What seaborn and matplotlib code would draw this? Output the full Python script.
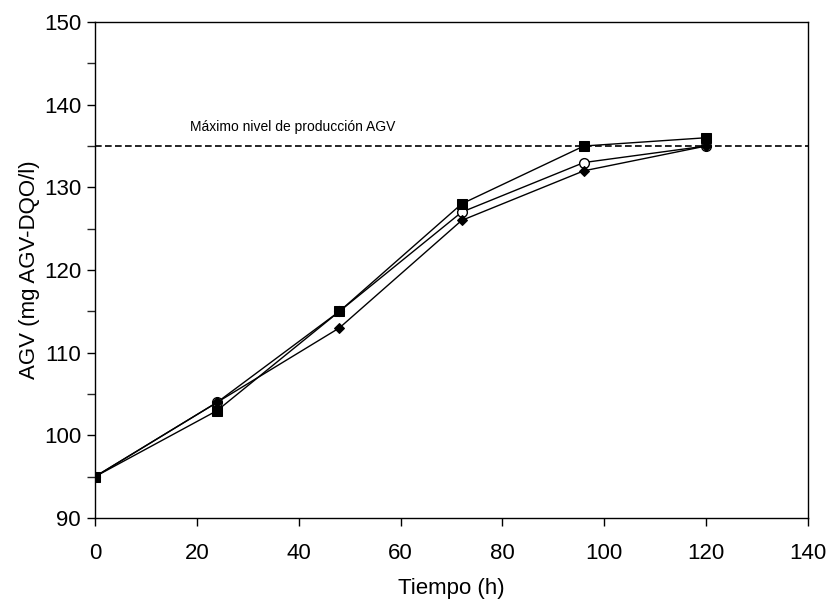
import numpy as np
import pandas as pd
import matplotlib
matplotlib.use("Agg")
import matplotlib.pyplot as plt
import seaborn as sns

# ==========================================================
# Data
# ==========================================================

tiempo = [0, 24, 48, 72, 96, 120]
agv_diamante = [95, 104, 113, 126, 132, 135]
agv_circulo = [95, 104, 115, 127, 133, 135]
agv_cuadrado = [95, 103, 115, 128, 135, 136]

nivel_maximo = 135
texto_maximo = "Máximo nivel de producción AGV"

x_ticks = [0, 20, 40, 60, 80, 100, 120, 140]
y_ticks = [90, 100, 110, 120, 130, 140, 150]

# ==========================================================
# Figure
# ==========================================================

sns.set_theme(style="ticks")
plt.rcParams["font.family"] = ["Liberation Sans", "DejaVu Sans"]

fig = plt.figure(figsize=(8.28, 6.08), dpi=100)
ax = fig.add_axes([0.1147, 0.148, 0.8611, 0.8158])

# open circles first so the filled diamonds sit on top where they overlap
series = [
    (agv_circulo, dict(marker="o", markersize=7, markerfacecolor="white",
                       markeredgecolor="black", markeredgewidth=1)),
    (agv_diamante, dict(marker="D", markersize=5.5, markerfacecolor="black",
                        markeredgecolor="black")),
    (agv_cuadrado, dict(marker="s", markersize=7, markerfacecolor="black",
                        markeredgecolor="black")),
]

for valores, estilo in series:
    sns.lineplot(
        x=tiempo,
        y=valores,
        ax=ax,
        color="black",
        linewidth=1.0,
        **estilo
    )

ax.axhline(nivel_maximo, color="black", linestyle=(0, (4, 2)), linewidth=1.2)

ax.text(18.6, 137.3, texto_maximo, fontsize=10, color="black",
        ha="left", va="center")

ax.set_xlim(0, 140)
ax.set_ylim(90, 150)
ax.set_xticks(x_ticks)
ax.set_yticks(y_ticks)
ax.set_yticks(np.arange(95, 150, 10), minor=True)

ax.tick_params(axis="both", which="major", direction="out", length=6,
               width=1, labelsize=16, colors="black")
ax.tick_params(axis="x", which="major", pad=12)
ax.tick_params(axis="y", which="major", pad=4)
ax.tick_params(axis="y", which="minor", direction="out", length=6, width=1)

for s in ax.spines.values():
    s.set_visible(True)
    s.set_color("black")
    s.set_linewidth(1.0)

ax.set_xlabel("Tiempo (h)", fontsize=16, labelpad=10, color="black")
ax.set_ylabel("AGV (mg AGV-DQO/l)", fontsize=16, labelpad=3, color="black")

plt.savefig("out.png", dpi=100)
plt.close()
